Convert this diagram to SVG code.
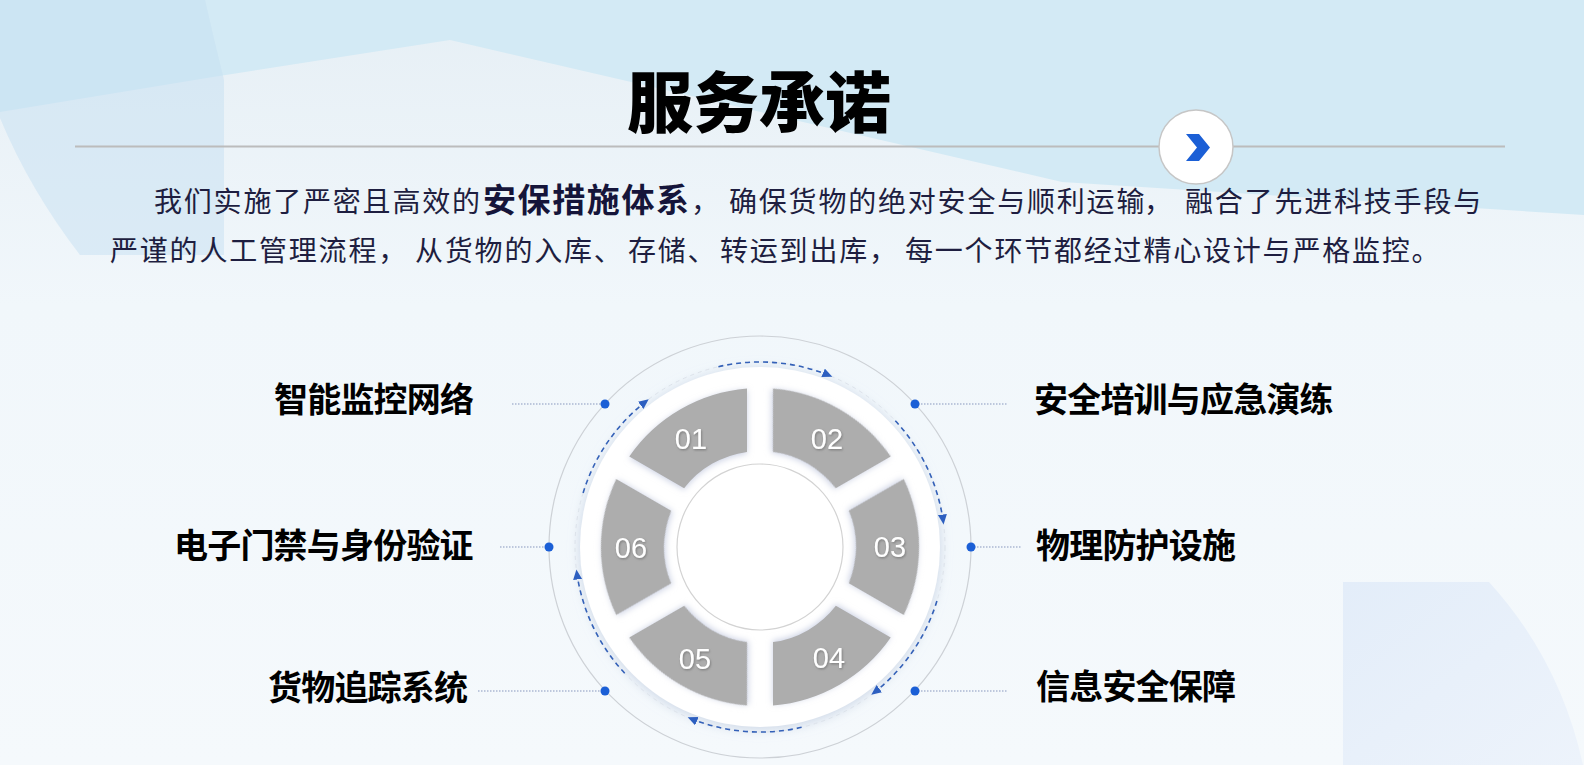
<svg xmlns="http://www.w3.org/2000/svg" width="1584" height="765" viewBox="0 0 1584 765">
<defs>
<style>
.body{font-family:"Noto Sans CJK SC","Noto Sans",sans-serif;font-size:28px;fill:#1e1e40;letter-spacing:1.8px}
.em{font-size:33px;font-weight:700;letter-spacing:1.6px;fill:#15153a}
.title{font-family:"Noto Sans CJK SC",sans-serif;font-size:66px;font-weight:900;fill:#000}
.lbl{font-family:"Noto Sans CJK SC",sans-serif;font-size:34px;font-weight:700;fill:#000;letter-spacing:-0.8px}
.num{font-family:"Liberation Sans",Arial,sans-serif;font-size:29px;fill:#fff;text-anchor:middle}
.lead{stroke:#8797bd;stroke-width:1;stroke-dasharray:1.5 1.5;fill:none}
.dot{fill:#1b5fd6}
.arc{fill:none;stroke:#3461b8;stroke-width:1.6;stroke-dasharray:5 4;marker-end:url(#ah)}
.seg{fill:#adadad}
</style>
<linearGradient id="bg" x1="0" y1="0" x2="0" y2="1">
<stop offset="0" stop-color="#e6eff5"/>
<stop offset="0.4" stop-color="#f1f7fb"/>
<stop offset="1" stop-color="#f5f9fc"/>
</linearGradient>
<linearGradient id="br" x1="0" y1="0" x2="1" y2="1">
<stop offset="0" stop-color="#e3edf9"/>
<stop offset="1" stop-color="#edf3fb"/>
</linearGradient>
<filter id="glow" x="-20%" y="-20%" width="140%" height="140%">
<feDropShadow dx="0" dy="2" stdDeviation="6" flood-color="#b8c6dc" flood-opacity="0.7"/>
</filter>
<filter id="segsh" x="-20%" y="-20%" width="140%" height="140%">
<feGaussianBlur in="SourceGraphic" stdDeviation="0.4" result="b"/>
<feDropShadow in="b" dx="0" dy="1.5" stdDeviation="3" flood-color="#b5bed8" flood-opacity="0.7"/>
</filter>
<filter id="tsh" x="-20%" y="-20%" width="140%" height="140%">
<feDropShadow dx="0.8" dy="1.2" stdDeviation="0.8" flood-color="#6e6e6e" flood-opacity="0.8"/>
</filter>
<marker id="ah" markerUnits="userSpaceOnUse" markerWidth="12" markerHeight="10" refX="10" refY="4.5" orient="auto">
<path d="M0,0 L10,4.5 L0,9 Z" fill="#2d5fc0"/>
</marker>
<path id="segp" d="M747,388.53 A159,159 0 0 0 629.27,456.5 L684.11,488.2 A96,96 0 0 1 747,451.88 Z"/>
</defs>

<!-- background -->
<rect width="1584" height="765" fill="url(#bg)"/>
<path d="M0,0 L1584,0 L1584,215 L1062,182 L450,40 L213,77 L0,112 Z" fill="#d3eaf5"/>
<path d="M0,0 L205,0 Q214,40 224,80 L224,255 L80,255 Q30,190 0,118 Z" fill="#c6dff1" opacity="0.5"/>
<path d="M1343,582 L1489,582 Q1560,660 1583,765 L1343,765 Z" fill="url(#br)"/>

<!-- header -->
<g id="title">
<line x1="75" y1="146.5" x2="1505" y2="146.5" stroke="#bcbcbc" stroke-width="2"/>
<text class="title" x="627" y="127">服务承诺</text>
<circle cx="1196" cy="147" r="37" fill="#ffffff" stroke="#c6c6c6" stroke-width="1.5"/>
<path d="M1186,134 L1199,134 L1210,147.5 L1199,161 L1186,161 L1197,147.5 Z" fill="#1b5fd6"/>
</g>

<g id="intro">
<text class="body" y="212"><tspan x="154">我们实施了严密且高效的</tspan><tspan x="483" class="em">安保措施体系</tspan><tspan x="691">，</tspan><tspan x="729">确保货物的绝对安全与顺利运输</tspan><tspan x="1144">，</tspan><tspan x="1185">融合了先进科技手段与</tspan></text>
<text class="body" y="261"><tspan x="110">严谨的人工管理流程，</tspan><tspan x="415">从货物的入库、</tspan><tspan x="628">存储、</tspan><tspan x="720">转运到出库，</tspan><tspan x="905">每一个环节都经过精心设计与严格监控。</tspan></text>
</g>

<!-- wheel base -->
<g id="wheel">
<circle cx="760" cy="547" r="211" fill="none" stroke="#cdd1d6" stroke-width="1.2"/>
<circle cx="760" cy="547" r="180" fill="#ffffff" filter="url(#glow)"/>
<circle cx="760" cy="547" r="185" fill="none" stroke="#dde3eb" stroke-width="1" stroke-dasharray="4 4"/>
</g>

<g id="seg01"><use href="#segp" class="seg" filter="url(#segsh)"/><text class="num" x="691" y="449" filter="url(#tsh)">01</text></g>
<g id="seg02"><use href="#segp" class="seg" filter="url(#segsh)" transform="rotate(60 760 547)"/><text class="num" x="827" y="449" filter="url(#tsh)">02</text></g>
<g id="seg03"><use href="#segp" class="seg" filter="url(#segsh)" transform="rotate(120 760 547)"/><text class="num" x="890" y="557" filter="url(#tsh)">03</text></g>
<g id="seg04"><use href="#segp" class="seg" filter="url(#segsh)" transform="rotate(180 760 547)"/><text class="num" x="829" y="668" filter="url(#tsh)">04</text></g>
<g id="seg05"><use href="#segp" class="seg" filter="url(#segsh)" transform="rotate(240 760 547)"/><text class="num" x="695" y="669" filter="url(#tsh)">05</text></g>
<g id="seg06"><use href="#segp" class="seg" filter="url(#segsh)" transform="rotate(300 760 547)"/><text class="num" x="631" y="558" filter="url(#tsh)">06</text></g>

<g id="hub"><circle cx="760" cy="547" r="83" fill="#ffffff" stroke="#d3d3d3" stroke-width="1.2"/></g>

<!-- connectors -->
<g id="connectors">
<path class="arc" d="M718.4,366.7 A185,185 0 0 1 832.3,376.7"/>
<path class="arc" d="M895.3,420.8 A185,185 0 0 1 943.6,524.5"/>
<path class="arc" d="M936.9,601.1 A185,185 0 0 1 871.3,694.7"/>
<path class="arc" d="M801.6,727.3 A185,185 0 0 1 687.7,717.3"/>
<path class="arc" d="M624.7,673.2 A185,185 0 0 1 576.4,569.5"/>
<path class="arc" d="M583.1,492.9 A185,185 0 0 1 648.7,399.3"/>
<line class="lead" x1="512" y1="404" x2="605" y2="404"/>
<line class="lead" x1="500" y1="547" x2="549" y2="547"/>
<line class="lead" x1="478" y1="691" x2="605" y2="691"/>
<line class="lead" x1="915" y1="404" x2="1007" y2="404"/>
<line class="lead" x1="971" y1="547" x2="1022" y2="547"/>
<line class="lead" x1="915" y1="691" x2="1007" y2="691"/>
<circle class="dot" cx="605" cy="404" r="4.5"/>
<circle class="dot" cx="549" cy="547" r="4.5"/>
<circle class="dot" cx="605" cy="691" r="4.5"/>
<circle class="dot" cx="915" cy="404" r="4.5"/>
<circle class="dot" cx="971" cy="547" r="4.5"/>
<circle class="dot" cx="915" cy="691" r="4.5"/>
</g>

<!-- labels -->
<g id="label-1"><text class="lbl" x="274" y="412">智能监控网络</text></g>
<g id="label-2"><text class="lbl" x="174" y="558">电子门禁与身份验证</text></g>
<g id="label-3"><text class="lbl" x="268" y="700">货物追踪系统</text></g>
<g id="label-4"><text class="lbl" x="1034" y="412">安全培训与应急演练</text></g>
<g id="label-5"><text class="lbl" x="1036" y="558">物理防护设施</text></g>
<g id="label-6"><text class="lbl" x="1036" y="699">信息安全保障</text></g>
</svg>
